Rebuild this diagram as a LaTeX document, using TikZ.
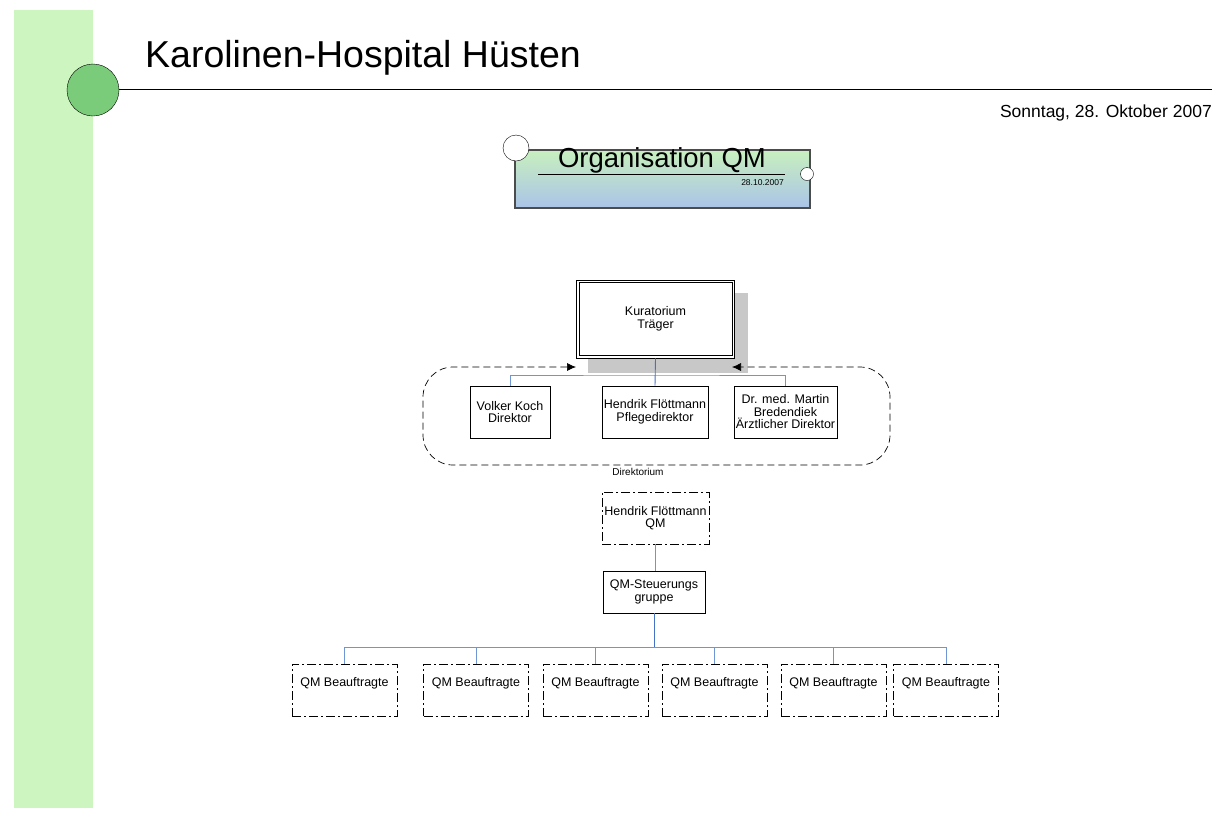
\documentclass[tikz,border=0pt]{standalone}
\usepackage{fontspec}
\setmainfont{Liberation Sans}
\usetikzlibrary{arrows.meta}
\definecolor{stripgreen}{RGB}{204,245,192}
\definecolor{dotgreen}{RGB}{122,204,122}
\definecolor{linkblue}{RGB}{68,114,196}
\definecolor{branchblue}{RGB}{110,150,215}
\definecolor{shadowgray}{RGB}{200,200,200}
\definecolor{headtop}{RGB}{200,240,190}
\definecolor{headbottom}{RGB}{170,195,232}
\tikzset{
  orgbox/.style={draw, line width=0.7pt, minimum height=52pt, inner sep=1pt, align=center, font=\fontsize{12.5}{12.5}\selectfont},
  dashdot box/.style={orgbox, dash pattern=on 9pt off 3pt on 2pt off 3pt},
  trunk/.style={linkblue, line width=0.9pt},
  branch/.style={branchblue, line width=0.7pt},
  frametip/.tip={Latex[length=9pt,width=8pt]},
}

\begin{document}
\begin{tikzpicture}[x=1pt,y=1pt,yscale=-1,xscale=1]
\useasboundingbox (0,0) rectangle (1224,823);

%Shape: Rectangle [green strip]
\fill[stripgreen] (14,10) rectangle (93,808);
%Shape: Circle [header dot]
\node[circle, draw, fill=dotgreen, minimum size=52pt, inner sep=0pt] (hdr) at (93,90) {};
%Straight Lines [header rule]
\draw (hdr.east) ++(0,-1) -- (1212,89);

% Text Node
\node[anchor=base west, inner sep=0pt, font=\fontsize{37.5}{37.5}\selectfont] (title) at (145,67) {Karolinen-Hospital Hüsten};
% Text Node
\node[anchor=base east, inner sep=0pt, font=\fontsize{17.5}{17.5}\selectfont] (date) at (1212,117) {Sonntag, 28. Oktober 2007};

%Shape: Rectangle [heading box]
\node[draw=black!70, line width=1.2pt, top color=headtop, bottom color=headbottom, minimum width=295pt, minimum height=58pt] (head) at (662.5,179) {};
\draw[fill=white] (516,148) circle (13);
\draw[fill=white] (807,174) circle (6.5);
% Text Node
\node[anchor=base, inner sep=0pt, font=\fontsize{27.5}{27.5}\selectfont] (headtxt) at (662,167) {Organisation QM};
\draw[line width=0.6pt] (538,174) -- (785,174);
% Text Node
\node[anchor=base east, inner sep=0pt, font=\fontsize{8.5}{8.5}\selectfont] (headdate) at (784,185) {28.10.2007};

%Shape: Rectangle [shadow]
\fill[shadowgray] (588,293) rectangle (748,373);
%Shape: Rectangle [Kuratorium]
\node[orgbox, fill=white, minimum width=158pt, minimum height=78pt] (kur) at (655.5,319) {Kuratorium\\Träger};
\draw[line width=0.7pt] ([shift={(3,3)}]kur.north west) rectangle ([shift={(-3,-3)}]kur.south east);

%Straight Lines [Direktorium frame]
\draw[line width=0.7pt, dash pattern=on 7pt off 4pt, rounded corners=30pt, {frametip}-{frametip}]
  (576,367) -- (423,367) -- (423,465) -- (890,465) -- (890,367) -- (732,367);
% Text Node
\node[inner sep=0pt, font=\fontsize{10}{10}\selectfont] (dirlabel) at (638,472) {Direktorium};

%Shape: Rectangle [directors]
\node[orgbox, minimum width=80pt] (koch) at (510,412) {Volker Koch\\Direktor};
\node[orgbox, minimum width=106pt] (pflege) at (655,412) {Hendrik Flöttmann\\Pflegedirektor};
\node[orgbox, minimum width=103pt] (arzt) at (785.5,412) {Dr. med. Martin\\Bredendiek\\Ärztlicher Direktor};

\coordinate (dirbus) at (655,375);
\draw[branch] (koch.north) |- (dirbus) -| (arzt.north);
\draw[trunk] (kur.south) -- (pflege.north);

%Shape: Rectangle [QM]
\node[dashdot box, minimum width=107pt] (qm) at (655.5,518) {Hendrik Flöttmann\\QM};
\node[orgbox, minimum width=102pt, minimum height=42pt] (steuer) at (654,592) {QM-Steuerungs\\gruppe};
\draw[branch] (qm.south) -- (qm.south |- steuer.north);

\coordinate (qmbus) at (654,647);
\draw[trunk] (steuer.south) -- (qmbus);

%Shape: Rectangle [QM Beauftragte]
\foreach \name/\xpos in {b1/344.5, b2/476, b3/595.5, b4/714.5, b5/833.5, b6/946}
  \node[dashdot box, minimum width=105pt, text depth=16pt] (\name) at (\xpos,690) {QM Beauftragte};
\draw[branch] (b1.north) |- (qmbus) -| (b6.north);
\foreach \name in {b2,b3,b4,b5}
  \draw[branch] (\name.north) -- (\name.north |- qmbus);

\end{tikzpicture}
\end{document}
